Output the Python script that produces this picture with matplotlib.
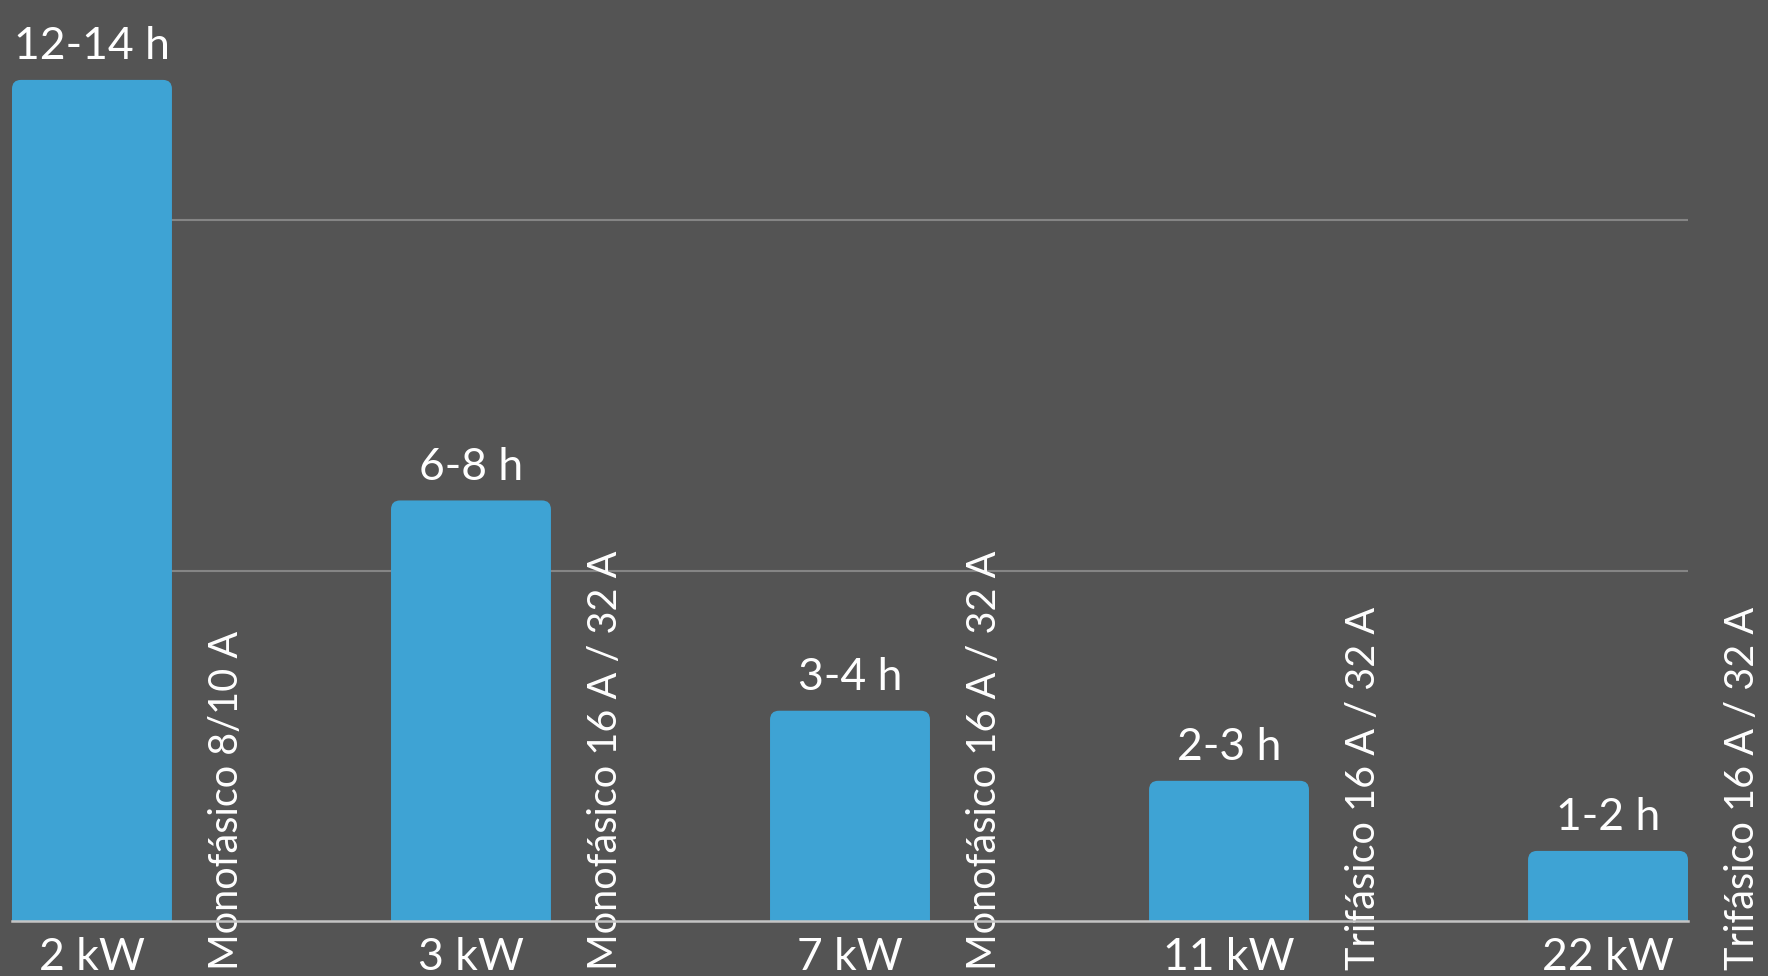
import matplotlib
matplotlib.use("Agg")
import matplotlib.pyplot as plt
from matplotlib.patches import FancyBboxPatch

powers = ['2 kW', '3 kW', '7 kW', '11 kW', '22 kW']
hours_min = [12, 6, 3, 2, 1]
hour_labels = ['12-14 h', '6-8 h', '3-4 h', '2-3 h', '1-2 h']
connections = ['Monofásico 8/10 A', 'Monofásico 16 A / 32 A', 'Monofásico 16 A / 32 A',
               'Trifásico 16 A / 32 A', 'Trifásico 16 A / 32 A']

bg = '#545454'
bar_color = '#3ea3d4'
plt.rcParams['font.family'] = ['Lato', 'DejaVu Sans']

W, H = 1768, 976
fig = plt.figure(figsize=(W / 100, H / 100), dpi=100)
fig.patch.set_facecolor(bg)
ax = fig.add_axes([12 / W, 1 - 921 / H, (1688 - 12) / W, 921 / H])
ax.set_facecolor(bg)

bar_w = 0.422
xmin, xmax = -bar_w / 2, len(powers) - 1 + bar_w / 2
ymax = 13.14
ax.set_xlim(xmin, xmax)
ax.set_ylim(0, ymax)

# pixels per data unit, used to keep the corners round
px_x = (1688 - 12) / (xmax - xmin)
px_y = 921 / ymax
r_px = 9
r = r_px / px_x
aspect = px_x / px_y

for i, v in enumerate(hours_min):
    ry = r * aspect
    box = FancyBboxPatch((i - bar_w / 2, -ry), bar_w, v + ry,
                         boxstyle=f"round,pad=0,rounding_size={r}",
                         mutation_aspect=aspect, facecolor=bar_color,
                         edgecolor='none', zorder=2)
    ax.add_patch(box)
    ax.annotate(hour_labels[i], (i, v), xytext=(0, 15), textcoords='offset points',
                ha='center', va='baseline', fontsize=32, color='white')
    ax.annotate(connections[i], (i + 0.386, 0), xytext=(0, -35),
                textcoords='offset points', rotation=90, rotation_mode='anchor',
                ha='left', va='baseline', fontsize=28.5, color='white',
                annotation_clip=False)

ax.set_yticks([5, 10])
ax.set_yticklabels([])
ax.grid(axis='y', color='#858585', linewidth=1.5)
ax.set_axisbelow(True)
ax.set_xticks(range(len(powers)), powers)
ax.tick_params(axis='both', length=0)
ax.tick_params(axis='x', pad=35, labelsize=32, labelcolor='white')
plt.setp(ax.get_xticklabels(), va='baseline')

for s in ['top', 'left', 'right']:
    ax.spines[s].set_visible(False)
ax.spines['bottom'].set_color('#c4c4c4')
ax.spines['bottom'].set_linewidth(1.8)
ax.spines['bottom'].set_zorder(3)

fig.savefig('out.png', dpi=100, facecolor=bg)
